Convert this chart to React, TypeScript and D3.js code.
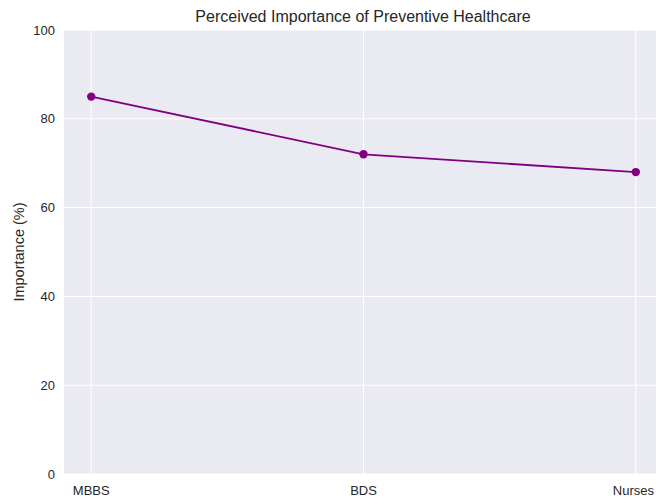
import React from "react";
import * as d3 from "d3";

const categories = ["MBBS", "BDS", "Nurses"];
const importance = [85, 72, 68];
const yTicks = [0, 20, 40, 60, 80, 100];

const W = 656;
const H = 502;
const left = 64;
const top = 30;
const bottom = 474;
const right = 663; // axes extends slightly past the figure edge

export default function App() {
  const x = d3.scaleLinear().domain([-0.1, 2.1]).range([left, right]);
  const y = d3.scaleLinear().domain([0, 100]).range([bottom, top]);
  const line = d3
    .line<number>()
    .x((_, i) => x(i))
    .y((d) => y(d));
  const font = "'Liberation Sans', Arial, sans-serif";
  return (
    <svg
      width={W}
      height={H}
      style={{ position: "absolute", left: 0, top: 0 }}
      fontFamily={font}
    >
      <rect x={0} y={0} width={W} height={H} fill="#ffffff" />
      <rect x={left} y={top} width={right - left} height={bottom - top} fill="#EAEAF2" />
      {yTicks.map((t) => (
        <line key={"gy" + t} x1={left} x2={right} y1={y(t)} y2={y(t)} stroke="#ffffff" strokeWidth={1} />
      ))}
      {categories.map((c, i) => (
        <line key={"gx" + c} x1={x(i)} x2={x(i)} y1={top} y2={bottom} stroke="#ffffff" strokeWidth={1} />
      ))}
      <path d={line(importance) || ""} fill="none" stroke="#800080" strokeWidth={1.8} />
      {importance.map((v, i) => (
        <circle key={"p" + i} cx={x(i)} cy={y(v)} r={4.2} fill="#800080" />
      ))}
      {yTicks.map((t) => (
        <text key={"ty" + t} x={55} y={y(t)} dy="0.35em" textAnchor="end" fontSize={13} fill="#262626">
          {t}
        </text>
      ))}
      {categories.map((c, i) => (
        <text
          key={"tx" + c}
          x={i === categories.length - 1 ? 654 : x(i)}
          y={495}
          textAnchor={i === categories.length - 1 ? "end" : "middle"}
          fontSize={13}
          fill="#262626"
        >
          {c}
        </text>
      ))}
      <text
        transform={`translate(24,${(top + bottom) / 2}) rotate(-90)`}
        textAnchor="middle"
        fontSize={14.5}
        fill="#262626"
      >
        Importance (%)
      </text>
      <text x={363} y={22} textAnchor="middle" fontSize={16} fill="#262626">
        Perceived Importance of Preventive Healthcare
      </text>
    </svg>
  );
}
